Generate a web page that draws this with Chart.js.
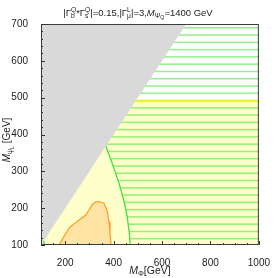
<!DOCTYPE html>
<html>
<head>
<meta charset="utf-8">
<script src="https://cdn.jsdelivr.net/npm/chart.js@4/dist/chart.umd.min.js"></script>
<style>
    html, body { margin: 0; padding: 0; background: #fff; }
</style>
</head>
<body>
<canvas id="c" width="274" height="278"></canvas>
<script>
// axes
const xMin = 100, xMax = 1000;
const yMin = 100, yMax = 700;
const xTicks = [200, 400, 600, 800, 1000];
const yTicks = [100, 200, 300, 400, 500, 600, 700];
const xMinorStep = 50;
const yMinorStep = 20;

// grey excluded region: M_psiL > M_Phi
const greyX = [100, 1000];
const greyY = [100, 1000];

// yellow boundary
const yellowX = [100, 1000];
const yellowY = [490, 490];

// orange contour
const orangeX = [175, 198, 218, 252, 286, 313, 327, 340, 361, 374, 381, 385, 390];
const orangeY = [100, 127, 148, 165, 182, 211, 217, 218, 213, 191, 163, 132, 100];

// green contour, hatched region to its right
const greenX = [100, 200, 340, 374, 394, 422, 442, 456, 465, 469, 474, 1000];
const greenY = [700, 580, 420, 358, 322, 268, 222, 177, 132, 100, 50, 50];

// small green piece at bottom left
const greenSmallX = [109, 116];
const greenSmallY = [114, 99];

const FONT = '"Liberation Sans", Arial, sans-serif';

function pts(xs, ys) {
    return xs.map((x, i) => ({ x, y: ys[i] }));
}

// hatch: horizontal green lines
function hatchPattern(ctx) {
    const c = document.createElement('canvas');
    c.width = 8; c.height = 80;
    const g = c.getContext('2d');
    g.strokeStyle = 'rgba(80,228,65,0.58)';
    g.lineWidth = 1.6;
    for (let k = 0; k < 11; k++) {
        const y = 6 + k * 80 / 11;
        g.beginPath(); g.moveTo(0, y); g.lineTo(8, y); g.stroke();
    }
    return ctx.createPattern(c, 'repeat');
}

// text with sub/superscripts
function partWidth(ctx, p, size) {
    ctx.font = (p.it ? 'italic ' : '') + size + 'px ' + FONT;
    let w = ctx.measureText(p.t).width;
    ctx.font = (size * 0.7) + 'px ' + FONT;
    const sup = p.sup ? ctx.measureText(p.sup).width : 0;
    let sub = p.sub ? ctx.measureText(p.sub).width : 0;
    if (p.subsub) {
        ctx.font = (size * 0.55) + 'px ' + FONT;
        sub += ctx.measureText(p.subsub).width;
    }
    return w + Math.max(sup, sub);
}

function drawRich(ctx, parts, cx, baseY, size) {
    const total = parts.reduce((s, p) => s + partWidth(ctx, p, size), 0);
    let x = cx - total / 2;
    ctx.textAlign = 'left';
    ctx.textBaseline = 'alphabetic';
    parts.forEach(p => {
        ctx.font = (p.it ? 'italic ' : '') + size + 'px ' + FONT;
        ctx.fillText(p.t, x, baseY);
        x += ctx.measureText(p.t).width;
        ctx.font = (size * 0.7) + 'px ' + FONT;
        let sw = 0, bw = 0;
        if (p.sup) { ctx.fillText(p.sup, x, baseY - size * 0.38); sw = ctx.measureText(p.sup).width; }
        if (p.sub) { ctx.fillText(p.sub, x, baseY + size * 0.22); bw = ctx.measureText(p.sub).width; }
        if (p.subsub) {
            ctx.font = (size * 0.55) + 'px ' + FONT;
            ctx.fillText(p.subsub, x + bw, baseY + size * 0.36);
            bw += ctx.measureText(p.subsub).width;
        }
        x += Math.max(sw, bw);
    });
}

const titleParts = [
    { t: '|' }, { t: 'Γ', sup: 'Q', sub: 'b' }, { t: '*' }, { t: 'Γ', sup: 'Q', sub: 's' },
    { t: '|=0.15,|' }, { t: 'Γ', sup: 'L', sub: 'μ' }, { t: '|=3,' },
    { t: 'M', it: true, sub: 'Ψ', subsub: 'Q' }, { t: '=1400 GeV' }
];
const xTitleParts = [{ t: 'M', it: true, sub: 'Φ' }, { t: '[GeV]' }];
const yTitleParts = [{ t: 'M', it: true, sub: 'ψ', subsub: 'L' }, { t: ' [GeV]' }];

const framePlugin = {
    id: 'frame',
    afterDraw(chart) {
        const { ctx, chartArea: a, scales: { x, y } } = chart;
        ctx.save();
        ctx.strokeStyle = '#3c3c3c';
        ctx.lineWidth = 1;
        ctx.strokeRect(a.left + 0.5, a.top + 0.5, a.right - a.left - 1, a.bottom - a.top - 1);

        // inward ticks on bottom and left
        ctx.strokeStyle = '#333';
        for (let v = xMin; v <= xMax; v += xMinorStep) {
            const px = Math.round(x.getPixelForValue(v)) + 0.5;
            const len = xTicks.includes(v) ? 4 : 2;
            ctx.beginPath(); ctx.moveTo(px, a.bottom); ctx.lineTo(px, a.bottom - len); ctx.stroke();
        }
        for (let v = yMin; v <= yMax; v += yMinorStep) {
            const py = Math.round(y.getPixelForValue(v)) + 0.5;
            const len = yTicks.includes(v) ? 4 : 2;
            ctx.beginPath(); ctx.moveTo(a.left, py); ctx.lineTo(a.left + len, py); ctx.stroke();
        }

        ctx.fillStyle = '#222';
        drawRich(ctx, titleParts, 138, 16, 9.5);
        drawRich(ctx, xTitleParts, (a.left + a.right) / 2, 274, 10.5);

        ctx.translate(10, 140);
        ctx.rotate(-Math.PI / 2);
        drawRich(ctx, yTitleParts, 0, 0, 10);
        ctx.restore();
    }
};

const cv = document.getElementById('c');
const ctx = cv.getContext('2d');
const tickFont = { family: FONT, size: 10 };

new Chart(ctx, {
    type: 'line',
    data: {
        datasets: [
            {   // grey excluded region
                data: pts(greyX, greyY), fill: 'end', backgroundColor: '#d9d9d9',
                borderWidth: 0, order: 0, clip: 0
            },
            {
                data: pts(greenSmallX, greenSmallY), fill: false, borderColor: '#3ee03e',
                borderWidth: 1.3, order: 1
            },
            {   // yellow boundary line
                data: pts(yellowX, yellowY), fill: false, borderColor: '#f4f421',
                borderWidth: 2, order: 2, clip: 0
            },
            {   // green hatched region
                data: pts(greenX, greenY), fill: 'end', backgroundColor: hatchPattern(ctx),
                borderColor: '#3ee03e', borderWidth: 1.3, order: 3, clip: 0
            },
            {   // orange region
                data: pts(orangeX, orangeY), fill: 'start', backgroundColor: '#ffe4a6',
                borderColor: '#ff9c1c', borderWidth: 1.2, order: 4, clip: 0
            },
            {   // light yellow region
                data: pts(yellowX, yellowY), fill: 'start', backgroundColor: '#ffffcb',
                borderWidth: 0, order: 5, clip: 0
            }
        ]
    },
    options: {
        responsive: false,
        animation: false,
        layout: { padding: { top: 24, right: 12, left: 0, bottom: 0 } },
        elements: { point: { radius: 0 }, line: { tension: 0 } },
        plugins: { legend: { display: false }, tooltip: { enabled: false } },
        scales: {
            x: {
                type: 'linear', min: xMin, max: xMax,
                afterBuildTicks: s => { s.ticks = xTicks.map(v => ({ value: v })); },
                afterFit: s => { s.height = 33; },
                grid: { display: false }, border: { display: false },
                ticks: { font: tickFont, color: '#222', padding: 4, maxRotation: 0, autoSkip: false,
                         callback: v => String(v) }
            },
            y: {
                type: 'linear', min: yMin, max: yMax,
                afterBuildTicks: s => { s.ticks = yTicks.map(v => ({ value: v })); },
                afterFit: s => { s.width = 41; },
                grid: { display: false }, border: { display: false },
                ticks: { font: tickFont, color: '#222', padding: 5, autoSkip: false,
                         callback: v => String(v) }
            }
        }
    },
    plugins: [framePlugin]
});
</script>
</body>
</html>
